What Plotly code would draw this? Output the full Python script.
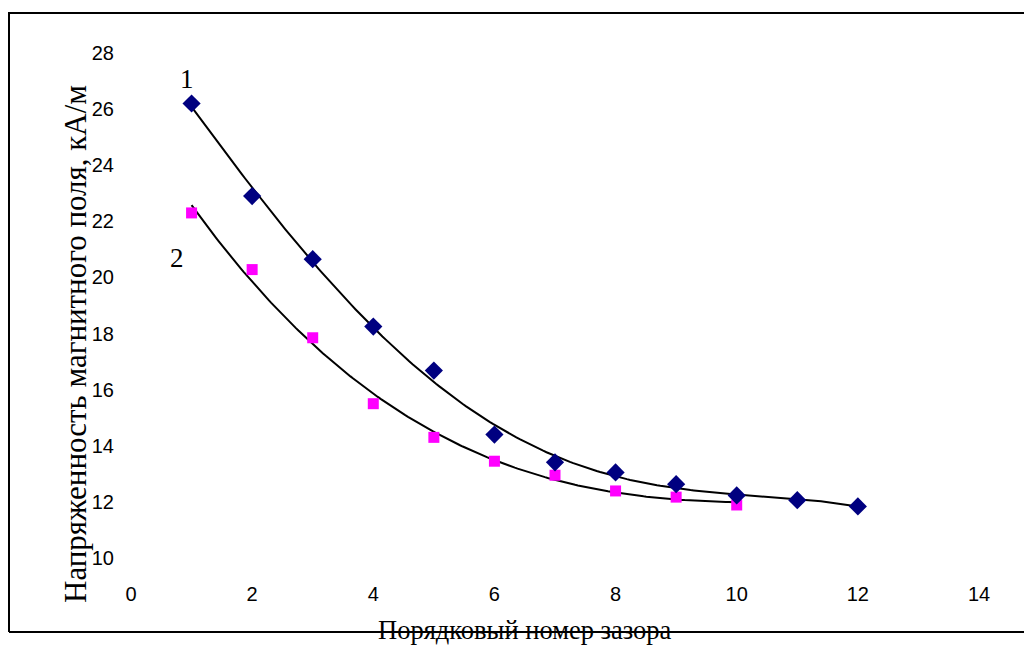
import numpy as np
import plotly.graph_objects as go

# Data
x1 = [1, 2, 3, 4, 5, 6, 7, 8, 9, 10, 11, 12]
y1 = [26.2, 22.9, 20.65, 18.25, 16.68, 14.4, 13.41, 13.05, 12.63, 12.23, 12.06, 11.84]
x2 = [1, 2, 3, 4, 5, 6, 7, 8, 9, 10]
y2 = [22.3, 20.28, 17.85, 15.5, 14.3, 13.45, 12.95, 12.39, 12.17, 11.89]

x_ticks = [0, 2, 4, 6, 8, 10, 12, 14]
y_ticks = [10, 12, 14, 16, 18, 20, 22, 24, 26, 28]

x_title = "Порядковый номер зазора"
y_title = "Напряженность магнитного поля, кА/м"
label1 = "1"
label2 = "2"

OFF = 8  # page body margin in the browser
W, H = 1032 - OFF, 646 - OFF
# plot area in window pixels: x 131..979, y 53..558
L, T = 131 - OFF, 53 - OFF
R = W - (979 - OFF)
B = H - (558 - OFF)
PW, PH = W - L - R, H - T - B


def px(xw):
    return (xw - OFF - L) / PW


def py(yw):
    return (H - B - (yw - OFF)) / PH


# polynomial trendlines computed from the data
tx1 = np.linspace(min(x1), max(x1), 200)
ty1 = np.polyval(np.polyfit(x1, y1, 4), tx1)
tx2 = np.linspace(min(x2), max(x2), 200)
ty2 = np.polyval(np.polyfit(x2, y2, 3), tx2)

fig = go.Figure()
fig.add_trace(go.Scatter(x=tx1, y=ty1, mode="lines",
                         line=dict(color="black", width=2), showlegend=False, hoverinfo="skip"))
fig.add_trace(go.Scatter(x=tx2, y=ty2, mode="lines",
                         line=dict(color="black", width=2), showlegend=False, hoverinfo="skip"))
fig.add_trace(go.Scatter(x=x2, y=y2, mode="markers",
                         marker=dict(symbol="square", size=11, color="#FF00FF"),
                         showlegend=False))
fig.add_trace(go.Scatter(x=x1, y=y1, mode="markers",
                         marker=dict(symbol="diamond", size=14, color="#000080"),
                         showlegend=False))

tickfont = dict(family="Liberation Sans, Arial, sans-serif", size=20, color="black")
serif = "Liberation Serif, Times New Roman, serif"

fig.update_xaxes(range=[0, 14], tickvals=x_ticks, showgrid=False, zeroline=False,
                 showline=False, ticks="", tickfont=tickfont, ticklabelstandoff=22)
fig.update_yaxes(range=[10, 28], tickvals=y_ticks, showgrid=False, zeroline=False,
                 showline=False, ticks="", tickfont=tickfont, ticklabelstandoff=16)

border = dict(color="black", width=2)
shapes = [
    dict(type="line", xref="paper", yref="paper", x0=px(9), x1=px(1040), y0=py(13), y1=py(13), line=border),
    dict(type="line", xref="paper", yref="paper", x0=px(9), x1=px(9), y0=py(12), y1=py(632), line=border),
    dict(type="line", xref="paper", yref="paper", x0=px(9), x1=px(1040), y0=py(632), y1=py(632), line=border),
]

annotations = [
    dict(text=y_title, xref="paper", yref="paper", x=px(75), y=py(344), textangle=-90,
         showarrow=False, font=dict(family=serif, size=31, color="black"),
         xanchor="center", yanchor="middle"),
    dict(text=x_title, xref="paper", yref="paper", x=px(525), y=py(630), showarrow=False,
         font=dict(family=serif, size=26.5, color="black"), xanchor="center", yanchor="middle"),
    dict(text=label1, xref="paper", yref="paper", x=px(187), y=py(79), showarrow=False,
         font=dict(family=serif, size=27, color="black"), xanchor="center", yanchor="middle"),
    dict(text=label2, xref="paper", yref="paper", x=px(177), y=py(258), showarrow=False,
         font=dict(family=serif, size=27, color="black"), xanchor="center", yanchor="middle"),
]

fig.update_layout(width=W, height=H, margin=dict(l=L, r=R, t=T, b=B),
                  paper_bgcolor="white", plot_bgcolor="white",
                  shapes=shapes, annotations=annotations, showlegend=False)

fig.write_html("out.html")
